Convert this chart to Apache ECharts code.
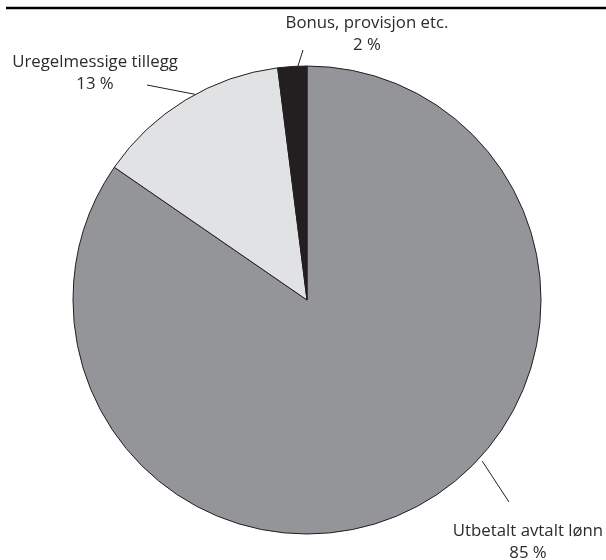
<!DOCTYPE html>
<html>
<head>
<meta charset="utf-8">
<script src="https://cdn.jsdelivr.net/npm/echarts@6/dist/echarts.min.js"></script>
<style>html,body{margin:0;padding:0;background:#fff}#c{width:606px;height:560px}</style>
</head>
<body>
<div id="c"></div>
<script>
// Data
var categories = ['Utbetalt avtalt lønn', 'Uregelmessige tillegg', 'Bonus, provisjon etc.'];
var values = [84.6, 13.4, 2.0];
var percentLabels = ['85 %', '13 %', '2 %'];
var colors = ['#939598', '#e1e2e3', '#231f20'];

// Layout settings (not data)
var CX = 307, CY = 300, R = 234;
var labelCenters = [[528, 542], [95, 73], [367, 34]];
var lineStartAngles = [132.6, -27.6, -2.5];
var lineStartRadius = [238, 231, 231];
var lineEnds = [[509, 502], [147, 85], [303, 50]];

function polar(angleDeg, r) {
  var a = angleDeg * Math.PI / 180;
  return [CX + r * Math.sin(a), CY - r * Math.cos(a)];
}

var chart = echarts.init(document.getElementById('c'));
var data = categories.map(function (c, i) {
  return { name: c, value: values[i], itemStyle: { color: colors[i] } };
});

chart.setOption({
  animation: false,
  graphic: [{
    type: 'line',
    shape: { x1: 6, y1: 8, x2: 606, y2: 8 },
    style: { stroke: '#000', lineWidth: 2.5 }
  }],
  series: [{
    type: 'pie',
    center: [CX, CY],
    radius: R,
    startAngle: 90,
    clockwise: true,
    data: data,
    itemStyle: { borderColor: '#231f20', borderWidth: 1 },
    emphasis: { disabled: true },
    label: {
      show: true,
      formatter: function (p) { return p.name + '\n' + percentLabels[p.dataIndex]; },
      fontFamily: 'Open Sans',
      fontSize: 16.8,
      lineHeight: 22,
      color: '#2b2b2b',
      align: 'center',
      overflow: 'none',
      width: 300
    },
    labelLine: {
      show: true,
      length: 10,
      length2: 0,
      lineStyle: { color: '#231f20', width: 1 }
    },
    labelLayout: function (p) {
      var i = p.dataIndex;
      return {
        x: labelCenters[i][0],
        y: labelCenters[i][1],
        align: 'center',
        verticalAlign: 'middle',
        labelLinePoints: [polar(lineStartAngles[i], lineStartRadius[i]), lineEnds[i], lineEnds[i]]
      };
    }
  }]
});
</script>
</body>
</html>
